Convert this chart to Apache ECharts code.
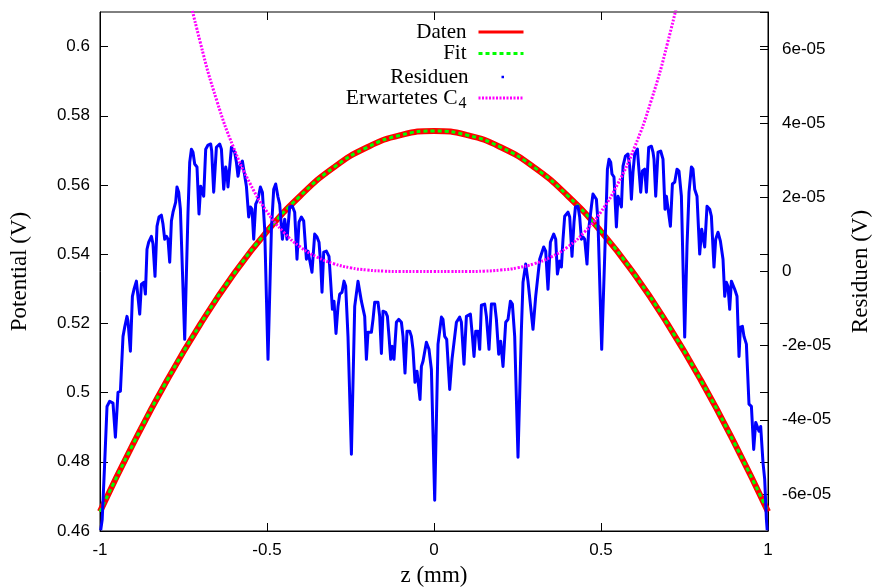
<!DOCTYPE html>
<html>
<head>
<meta charset="utf-8">
<script src="https://cdn.jsdelivr.net/npm/echarts@6/dist/echarts.min.js"></script>
<style>
html,body{margin:0;padding:0;background:#fff;}
#chart{width:872px;height:587px;}
</style>
</head>
<body>
<div id="chart"></div>
<script>
// ---- data ----
const zFit = [-1,-0.9,-0.8,-0.7,-0.6,-0.5,-0.4,-0.3,-0.2,-0.1,0,0.1,0.2,0.3,0.4,0.5,0.6,0.7,0.8,0.9,1];
const daten = [0.4656,0.4853,0.5034,0.5197,0.5342,0.5466,0.5569,0.5651,0.5709,0.5744,0.5756,0.5744,0.5709,0.5651,0.5569,0.5466,0.5342,0.5197,0.5034,0.4853,0.4656];
const fit   = [0.4656,0.4853,0.5034,0.5197,0.5342,0.5466,0.5569,0.5651,0.5709,0.5744,0.5756,0.5744,0.5709,0.5651,0.5569,0.5466,0.5342,0.5197,0.5034,0.4853,0.4656];

// expected C4 (units of 1e-05 V)
const c4Z = [-0.8,-0.75,-0.7,-0.65,-0.6,-0.55,-0.5,-0.45,-0.4,-0.35,-0.3,-0.25,-0.2,-0.15,-0.1,-0.05,0,0.05,0.1,0.15,0.2,0.25,0.3,0.35,0.4,0.45,0.5,0.55,0.6,0.65,0.7,0.75,0.8];
const c4Vals = [10.55,8.15,6.19,4.60,3.34,2.36,1.61,1.06,0.66,0.39,0.21,0.10,0.04,0.01,0.00,0.00,0.00,0.00,0.00,0.01,0.04,0.10,0.21,0.39,0.66,1.06,1.61,2.36,3.34,4.60,6.19,8.15,10.55];

// residuals [z (mm), residual in units of 1e-05 V]
const residZ = [-0.9979,-0.9934,-0.9859,-0.9790,-0.9710,-0.9611,-0.9539,-0.9461,-0.9389,-0.9311,-0.9260,-0.9192,-0.9162,-0.9090,-0.9030,-0.8982,-0.8910,-0.8862,-0.8811,-0.8760,-0.8683,-0.8641,-0.8593,-0.8542,-0.8461,-0.8413,-0.8353,-0.8293,-0.8234,-0.8162,-0.8114,-0.8063,-0.8012,-0.7964,-0.7913,-0.7862,-0.7814,-0.7734,-0.7695,-0.7644,-0.7593,-0.7464,-0.7365,-0.7314,-0.7263,-0.7216,-0.7165,-0.7096,-0.7036,-0.6985,-0.6940,-0.6895,-0.6835,-0.6766,-0.6686,-0.6656,-0.6596,-0.6515,-0.6416,-0.6365,-0.6296,-0.6237,-0.6198,-0.6168,-0.6066,-0.6027,-0.5967,-0.5916,-0.5868,-0.5817,-0.5737,-0.5689,-0.5617,-0.5548,-0.5497,-0.5449,-0.5398,-0.5338,-0.5269,-0.5198,-0.5138,-0.5069,-0.4970,-0.4868,-0.4799,-0.4740,-0.4671,-0.4620,-0.4539,-0.4470,-0.4401,-0.4320,-0.4240,-0.4171,-0.4102,-0.4042,-0.3970,-0.3901,-0.3820,-0.3772,-0.3722,-0.3653,-0.3572,-0.3503,-0.3443,-0.3392,-0.3353,-0.3302,-0.3222,-0.3144,-0.3093,-0.3042,-0.2994,-0.2934,-0.2874,-0.2823,-0.2754,-0.2695,-0.2644,-0.2575,-0.2473,-0.2374,-0.2275,-0.2225,-0.2174,-0.2126,-0.2075,-0.2024,-0.1976,-0.1925,-0.1874,-0.1826,-0.1775,-0.1677,-0.1626,-0.1575,-0.1527,-0.1446,-0.1395,-0.1347,-0.1296,-0.1246,-0.1198,-0.1126,-0.1057,-0.0976,-0.0928,-0.0868,-0.0808,-0.0728,-0.0677,-0.0629,-0.0569,-0.0509,-0.0467,-0.0419,-0.0377,-0.0329,-0.0278,-0.0228,-0.0150,-0.0078,0.0021,0.0120,0.0222,0.0269,0.0320,0.0380,0.0470,0.0539,0.0590,0.0671,0.0769,0.0820,0.0898,0.0970,0.1090,0.1150,0.1198,0.1249,0.1317,0.1368,0.1419,0.1518,0.1569,0.1647,0.1719,0.1817,0.1868,0.1937,0.1997,0.2066,0.2147,0.2216,0.2287,0.2347,0.2416,0.2515,0.2617,0.2665,0.2746,0.2814,0.2865,0.2964,0.3045,0.3084,0.3165,0.3284,0.3344,0.3413,0.3485,0.3584,0.3644,0.3695,0.3763,0.3814,0.3862,0.3913,0.4012,0.4063,0.4132,0.4192,0.4234,0.4311,0.4362,0.4413,0.4461,0.4512,0.4581,0.4632,0.4713,0.4760,0.4811,0.4862,0.4910,0.5021,0.5111,0.5192,0.5240,0.5290,0.5329,0.5389,0.5461,0.5509,0.5560,0.5611,0.5659,0.5731,0.5808,0.5859,0.5910,0.5958,0.6009,0.6090,0.6129,0.6189,0.6240,0.6308,0.6359,0.6428,0.6509,0.6557,0.6587,0.6638,0.6707,0.6787,0.6856,0.6916,0.6958,0.7006,0.7078,0.7138,0.7207,0.7275,0.7335,0.7407,0.7506,0.7575,0.7635,0.7707,0.7754,0.7805,0.7874,0.7955,0.8015,0.8054,0.8105,0.8174,0.8254,0.8305,0.8383,0.8434,0.8503,0.8575,0.8653,0.8704,0.8754,0.8802,0.8853,0.8904,0.8952,0.9003,0.9072,0.9132,0.9174,0.9234,0.9281,0.9353,0.9431,0.9503,0.9572,0.9632,0.9671,0.9731,0.9781,0.9850,0.9901,0.9952,0.9976];
const residVals = [-6.98,-6.69,-5.15,-3.64,-3.50,-3.55,-4.47,-3.26,-3.23,-1.75,-1.50,-1.21,-1.34,-2.15,-0.67,-0.48,-0.26,-0.29,-1.15,-0.34,-0.29,-0.61,0.60,0.79,0.95,0.74,-0.13,1.22,1.47,1.52,1.28,0.87,0.95,0.87,0.25,1.36,1.60,1.87,2.28,2.14,1.68,-1.83,1.60,2.95,3.30,3.22,2.90,2.82,1.55,2.30,2.33,2.03,3.30,3.41,3.44,3.25,2.14,3.35,3.44,3.30,2.22,2.82,2.63,2.28,3.35,3.33,3.22,2.95,2.57,2.84,2.98,2.95,2.30,1.47,1.74,1.68,0.87,1.82,1.95,2.28,2.14,1.14,-2.37,1.14,2.22,2.36,2.01,1.82,0.87,1.41,0.87,1.74,1.76,1.60,0.33,1.33,1.47,1.36,0.33,0.55,0.55,-0.02,1.01,0.93,0.79,0.20,-0.56,0.52,0.55,0.41,-0.29,-1.02,-0.80,-1.67,-0.94,-0.61,-0.56,-0.26,-0.40,-1.75,-4.93,-0.94,-0.26,-0.29,-0.80,-0.80,-1.21,-2.37,-1.64,-1.64,-1.64,-1.29,-0.83,-0.83,-1.21,-2.21,-1.07,-1.10,-1.21,-1.75,-2.37,-2.02,-2.37,-1.37,-1.29,-1.37,-1.75,-2.74,-1.61,-1.61,-1.75,-2.10,-2.99,-2.69,-2.69,-3.45,-2.56,-2.42,-2.45,-1.91,-2.10,-2.64,-6.17,-1.96,-1.23,-1.29,-1.75,-1.83,-3.18,-2.37,-2.37,-1.37,-1.23,-1.37,-2.50,-1.21,-1.15,-1.75,-2.29,-1.61,-1.61,-2.10,-0.91,-0.88,-1.21,-2.10,-0.88,-0.88,-1.29,-2.23,-1.88,-2.56,-1.37,-1.29,-0.80,-0.88,-1.75,-5.01,-1.56,-0.29,0.20,-0.26,-0.29,-1.56,-0.67,-0.67,0.33,0.66,0.55,-0.48,0.79,1.01,0.87,-0.07,0.28,0.12,0.87,1.49,1.60,1.47,0.41,1.33,1.74,1.76,1.47,0.87,0.93,0.87,0.20,1.14,1.76,2.09,2.14,1.95,1.33,-2.10,0.41,2.76,3.03,2.95,2.63,2.55,1.20,2.03,2.03,1.74,2.84,3.11,3.17,2.84,1.95,2.68,3.17,3.30,2.82,2.14,2.71,2.76,2.14,3.35,3.38,3.22,3.03,2.03,3.22,3.25,3.03,1.68,2.03,2.03,1.22,2.36,2.41,2.76,2.71,2.03,-1.77,0.68,2.14,2.82,2.76,2.22,2.03,0.47,1.14,1.14,0.66,1.76,1.68,1.49,0.12,0.87,1.06,0.82,0.33,-0.67,-0.29,-0.40,-1.02,-0.26,-0.21,-0.48,-0.67,-2.29,-1.50,-1.48,-1.75,-1.96,-3.58,-3.64,-4.80,-4.07,-4.07,-4.31,-4.18,-5.15,-5.61,-6.69,-6.98];

const xTicks = [-1,-0.5,0,0.5,1];
const potTicksMin = 0.46, potTicksMax = 0.61, potStep = 0.02;
const residTicks = [-6,-4,-2,0,2,4,6];

// ---- chart ----
const chart = echarts.init(document.getElementById('chart'), null, {renderer:'canvas'});
const sans = 'Liberation Sans';
const serif = 'Liberation Serif';
const pair = (xs, ys) => xs.map((x,i)=>[x, ys[i]]);

const legendBase = {
  orient:'vertical', align:'right', padding:0, itemGap:0,
  itemWidth:45, itemHeight:10,
  itemStyle:{opacity:0},
  textStyle:{fontFamily:serif, fontSize:21, color:'#000', lineHeight:22, padding:[0,7,0,0]}
};

chart.setOption({
  animation:false,
  backgroundColor:'#fff',
  grid:{left:100, right:104, top:12, bottom:56, show:true, borderColor:'#000', borderWidth:1,
        backgroundColor:'transparent', containLabel:false, outerBoundsMode:'none'},
  legend:[
    Object.assign({}, legendBase, {data:['Daten'], right:347, top:21, lineStyle:{width:3}}),
    Object.assign({}, legendBase, {data:['Fit'], right:347, top:42.5, lineStyle:{width:3}}),
    Object.assign({}, legendBase, {data:[{name:'Residuen', icon:'rect'}], right:368, top:66, itemWidth:2.5, itemHeight:2.5,
       itemStyle:{opacity:1},
       textStyle:Object.assign({}, legendBase.textStyle, {padding:[0,28,0,0]})}),
    Object.assign({}, legendBase, {data:['Erwartetes C4'], right:347, top:87, lineStyle:{width:3},
       formatter:function(){return '{a|Erwartetes C}{b|4}';},
       textStyle:Object.assign({}, legendBase.textStyle, {rich:{
         a:{fontFamily:serif, fontSize:21.5, color:'#000'},
         b:{fontFamily:serif, fontSize:16, color:'#000', padding:[12,0,0,1]}
       }})})
  ],
  xAxis:[{
    type:'value', position:'bottom', min:-1, max:1, interval:0.5,
    name:'z (mm)', nameLocation:'middle', nameGap:33,
    nameTextStyle:{fontFamily:serif, fontSize:23, color:'#000'},
    axisLine:{show:true, onZero:false, lineStyle:{color:'#000', width:1}},
    axisTick:{show:true, inside:true, length:8, lineStyle:{color:'#000'}},
    axisLabel:{fontFamily:sans, fontSize:17, color:'#000', margin:11},
    splitLine:{show:false}
  },{
    type:'value', position:'top', min:-1, max:1, interval:0.5,
    axisLine:{show:false, onZero:false},
    axisTick:{show:true, inside:true, length:8, lineStyle:{color:'#000'}},
    axisLabel:{show:false}, splitLine:{show:false}
  }],
  yAxis:[{
    type:'value', position:'left', min:potTicksMin, max:potTicksMax, interval:potStep,
    name:'Potential (V)', nameLocation:'middle', nameGap:69, nameRotate:90,
    nameTextStyle:{fontFamily:serif, fontSize:23, color:'#000'},
    axisLine:{show:true, onZero:false, lineStyle:{color:'#000', width:1}},
    axisTick:{show:true, inside:true, length:8, lineStyle:{color:'#000'}},
    axisLabel:{fontFamily:sans, fontSize:17, color:'#000', margin:10, showMaxLabel:false},
    splitLine:{show:false}
  },{
    type:'value', position:'right', min:-7, max:7,
    name:'Residuen (V)', nameLocation:'middle', nameGap:81, nameRotate:90,
    nameTextStyle:{fontFamily:serif, fontSize:23, color:'#000'},
    axisLine:{show:true, onZero:false, lineStyle:{color:'#000', width:1}},
    axisTick:{show:true, inside:true, length:8, lineStyle:{color:'#000'}, customValues:residTicks},
    axisLabel:{fontFamily:sans, fontSize:17, color:'#000', margin:14, customValues:residTicks,
      formatter:function(v){return v===0 ? '0' : (v + 'e-05');}},
    splitLine:{show:false}
  },{
    type:'value', position:'right', min:potTicksMin, max:potTicksMax, interval:potStep,
    axisLine:{show:false, onZero:false},
    axisTick:{show:true, inside:true, length:8, lineStyle:{color:'#000'}},
    axisLabel:{show:false}, splitLine:{show:false}
  }],
  series:[
    {name:'Daten', type:'line', xAxisIndex:0, yAxisIndex:0, data:pair(zFit, daten), symbol:'none', smooth:true,
     lineStyle:{color:'#ff0000', width:6}, itemStyle:{color:'#ff0000'}, z:2},
    {name:'Fit', type:'line', xAxisIndex:0, yAxisIndex:0, data:pair(zFit, fit), symbol:'none', smooth:true,
     lineStyle:{color:'#00ff00', width:3, type:[4,3]}, itemStyle:{color:'#00ff00'}, z:3},
    {name:'Residuen', type:'line', xAxisIndex:0, yAxisIndex:1, data:pair(residZ, residVals), symbol:'none',
     lineStyle:{color:'#0000ff', width:3, join:'round'}, itemStyle:{color:'#0000ff'}, z:4},
    {name:'Erwartetes C4', type:'line', xAxisIndex:0, yAxisIndex:1, data:pair(c4Z, c4Vals), symbol:'none', smooth:true,
     lineStyle:{color:'#ff00ff', width:3, type:[2,1.5]}, itemStyle:{color:'#ff00ff'}, z:5}
  ]
});
</script>
</body>
</html>
